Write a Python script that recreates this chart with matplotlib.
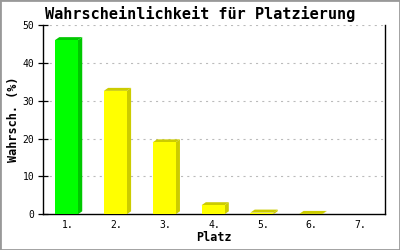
import matplotlib

matplotlib.use("Agg")
import matplotlib.pyplot as plt
from matplotlib.patches import Polygon, Rectangle

plt.rcParams["font.family"] = ["DejaVu Sans Mono", "DejaVu Sans"]
plt.rcParams["lines.scale_dashes"] = False

# data
places = ["1.", "2.", "3.", "4.", "5.", "6.", "7."]
probs = [46.0, 32.6, 19.0, 2.4, 0.45, 0.1, 0.0]
face_colors = ["#00FF00", "#FFFF00", "#FFFF00", "#FFFF00", "#FFFF00", "#FFFF00", "#FFFF00"]
side_colors = ["#00C800", "#CCCC00", "#CCCC00", "#CCCC00", "#CCCC00", "#CCCC00", "#CCCC00"]
yticks = [0, 10, 20, 30, 40, 50]

fig = plt.figure(figsize=(4.0, 2.5), dpi=100)
fig.patch.set_facecolor("white")
ax = fig.add_axes([43 / 400, 1 - 214.3 / 250, 342 / 400, 189.3 / 250])

ax.set_xlim(-0.5, len(places) - 0.5)
ax.set_ylim(0, 50)

# pixel -> data scale for the fake 3d depth
x_per_px = len(places) / 342.0
y_per_px = 50 / 189.3
dx = 4.3 * x_per_px
dy = 3.0 * y_per_px
width = 0.47
shift = -0.02

for i, (v, fc, sc) in enumerate(zip(probs, face_colors, side_colors)):
    if v <= 0:
        continue
    x0 = i + shift - width / 2
    x1 = x0 + width
    top = Polygon([(x0, v), (x1, v), (x1 + dx, v + dy), (x0 + dx, v + dy)],
                  closed=True, facecolor=sc, edgecolor="none", zorder=3)
    side = Polygon([(x1, 0), (x1 + dx, dy), (x1 + dx, v + dy), (x1, v)],
                   closed=True, facecolor=sc, edgecolor="none", zorder=3)
    ax.add_patch(top)
    ax.add_patch(side)
ax.bar([i + shift for i in range(len(places))], probs, width=width,
       color=face_colors, edgecolor="none", zorder=4)

ax.set_yticks(yticks)
ax.set_yticklabels([str(t) for t in yticks], fontsize=7)
ax.set_xticks(range(len(places)))
ax.set_xticklabels(places, fontsize=7)
ax.tick_params(axis="y", direction="inout", length=6.5, width=0.9, pad=3)
ax.tick_params(axis="x", length=0, pad=4)

for y in yticks[1:]:
    ax.axhline(y, color="#BBBBBB", linewidth=0.8, dashes=(1.5, 3.0), zorder=1)

ax.spines["top"].set_visible(False)
for s in ["left", "right", "bottom"]:
    ax.spines[s].set_linewidth(1.0)
    ax.spines[s].set_color("black")
ax.spines["right"].set_zorder(5)

ax.set_ylabel("Wahrsch. (%)", fontsize=8.5, fontweight="bold", labelpad=2)
ax.set_xlabel("Platz", fontsize=8.5, fontweight="bold", labelpad=1)
fig.text(0.5, 1 - 14 / 250, "Wahrscheinlichkeit für Platzierung",
         ha="center", va="center", fontsize=11, fontweight="bold")

fig.patches.append(Rectangle((0, 0), 1, 1, transform=fig.transFigure,
                             fill=False, edgecolor="#999999", linewidth=2.0))

fig.savefig("out.png", dpi=100)
